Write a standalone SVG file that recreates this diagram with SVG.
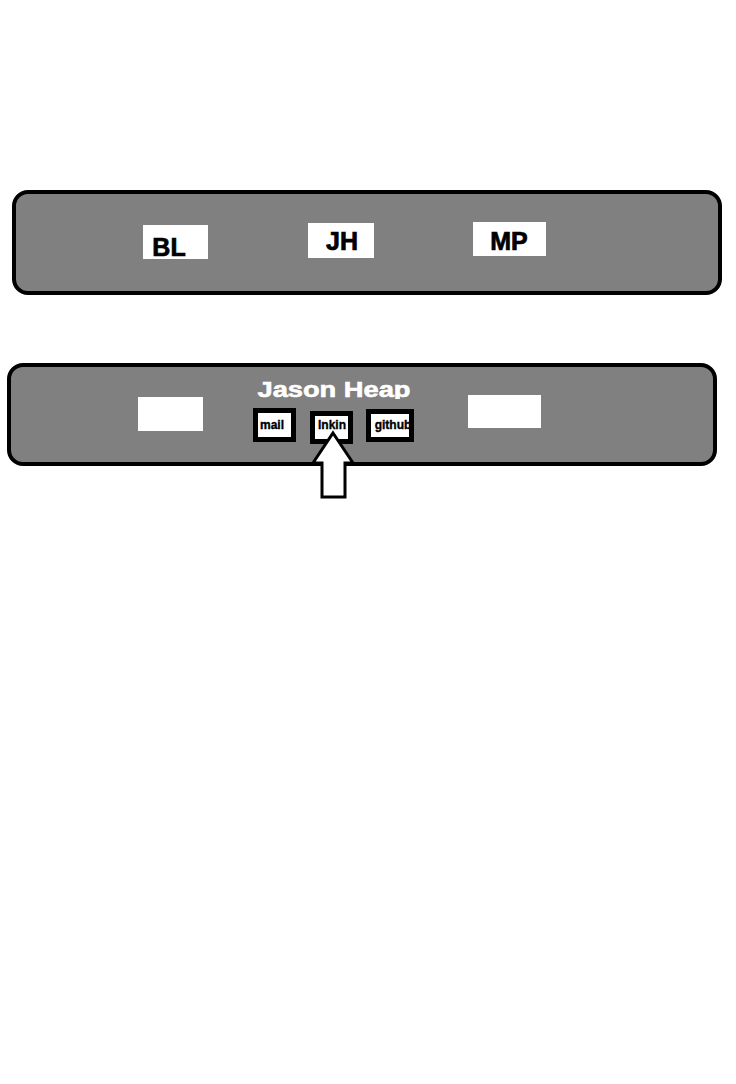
<svg xmlns="http://www.w3.org/2000/svg" width="736" height="1084" viewBox="0 0 736 1084">
  <style>
    .panel { fill: #808080; stroke: #000; stroke-width: 4; }
    .wbox { fill: #fff; stroke: none; }
    .lbl { font-family: "Liberation Sans", Arial, sans-serif; font-weight: bold; fill: #000; stroke: #000; text-anchor: middle; }
    .big { font-size: 25px; stroke-width: 0.7; }
    .small { font-size: 12px; stroke-width: 0.35; }
    .icon { fill: #fff; stroke: #000; stroke-width: 5; }
    .title { font-family: "Liberation Sans", Arial, sans-serif; font-weight: bold; font-size: 22px; fill: #fff; stroke: #fff; stroke-width: 0.6; text-anchor: middle; }
    .arrow { fill: #fff; stroke: #000; stroke-width: 3; stroke-linejoin: miter; }
  </style>
  <defs>
    <clipPath id="titleClip">
      <rect x="200" y="370" width="260" height="29"/>
    </clipPath>
  </defs>
  <rect x="0" y="0" width="736" height="1084" fill="#fff"/>

  <g id="nav-panel">
    <rect class="panel" x="14" y="192" width="706" height="101" rx="14" ry="14"/>
  </g>
  <g id="node-BL">
    <rect class="wbox" x="143" y="225" width="65" height="34"/>
    <text class="lbl big" x="169" y="256">BL</text>
  </g>
  <g id="node-JH">
    <rect class="wbox" x="308" y="223" width="66" height="35"/>
    <text class="lbl big" x="342" y="250">JH</text>
  </g>
  <g id="node-MP">
    <rect class="wbox" x="473" y="222" width="73" height="34"/>
    <text class="lbl big" x="509" y="250">MP</text>
  </g>

  <g id="profile-panel">
    <rect class="panel" x="9" y="365" width="706" height="99" rx="14" ry="14"/>
    <text class="title" x="334" y="396.5" textLength="153" lengthAdjust="spacingAndGlyphs" clip-path="url(#titleClip)">Jason Heap</text>
  </g>
  <g id="box-left">
    <rect class="wbox" x="138" y="397" width="65" height="34"/>
  </g>
  <g id="box-right">
    <rect class="wbox" x="468" y="395" width="73" height="33"/>
  </g>
  <g id="node-mail">
    <rect class="icon" x="255.5" y="410.5" width="38" height="29"/>
    <text class="lbl small" x="272" y="429">mail</text>
  </g>
  <g id="node-lnkin">
    <rect class="icon" x="312.5" y="413.5" width="38" height="28"/>
    <text class="lbl small" x="332" y="429">lnkin</text>
  </g>
  <g id="node-github">
    <rect class="icon" x="368.5" y="411.5" width="43" height="28"/>
    <text class="lbl small" x="393" y="429">github</text>
  </g>

  <g id="connectors">
    <polygon class="arrow" points="333,433 353,463 345,463 345,497 322,497 322,463 313,463"/>
  </g>
</svg>
